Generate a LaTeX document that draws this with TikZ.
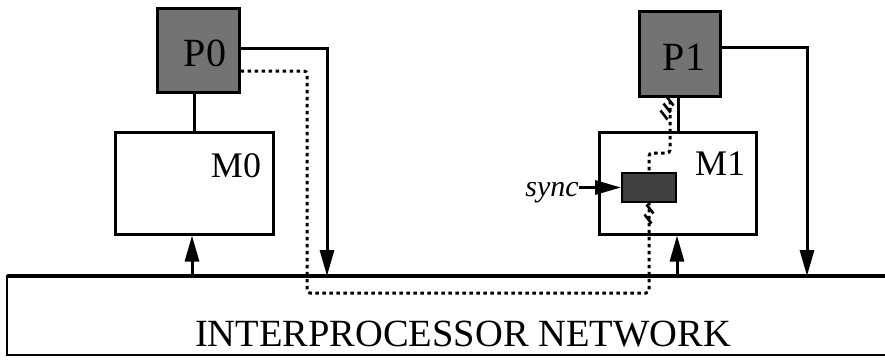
\documentclass[tikz,border=0pt]{standalone}
\usepackage{fontspec}
\setmainfont{Liberation Serif}
\usetikzlibrary{arrows.meta}
\begin{document}
\begin{tikzpicture}[x=1pt,y=-1pt,
  wire/.style={line width=3pt},
  tip/.style={-{Triangle[width=14pt,length=26pt]}},
  proc/.style={draw,line width=3pt,fill=black!55,inner sep=0pt},
  mem/.style={draw,line width=3pt,fill=white,minimum width=158pt,minimum height=102pt,inner sep=0pt},
  flow/.style={line width=3pt,dash pattern=on 3.5pt off 3.5pt,rounded corners=3pt},
  hatch/.style={line width=2.6pt},
  plabel/.style={anchor=base,inner sep=0pt,font=\fontsize{40}{40}\selectfont},
  mlabel/.style={anchor=base,inner sep=0pt,font=\fontsize{36}{36}\selectfont}]
\useasboundingbox (0,0) rectangle (885,359);
% network
\coordinate (NW) at (7,276);
\coordinate (SW) at (7,355);
\draw[line width=2.2pt] (890,276) -- (NW) -- (SW) -- (890,355);
\draw[line width=3.4pt] (890,276) -- (NW);
\node[anchor=base,inner sep=0pt,font=\fontsize{38.5}{38.5}\selectfont] (net) at (463,346) {INTERPROCESSOR NETWORK};
% processors and memories
\node[proc,minimum width=82pt,minimum height=84pt] (P0) at (198,50) {};
\node[proc,minimum width=81pt,minimum height=85pt] (P1) at (679.5,53.5) {};
\node[plabel] (P0l) at (205,66) {P0};
\node[plabel] (P1l) at (684,70) {P1};
\node[mem] (M0) at (194,183) {};
\node[mem,minimum width=157pt] (M1) at (677.5,183) {};
\node[mlabel] (M0l) at (236,177) {M0};
\node[mlabel] (M1l) at (720,175) {M1};
% dotted flow
\coordinate (d1) at (307,71);
\coordinate (d2) at (307,293);
\coordinate (d3) at (649,293);
\coordinate (d4) at (649,153);
\coordinate (d5) at (670,153);
\draw[flow] (P0.east |- d1) -- (d1) -- (d2) -- (d3) -- (d4) -- (d5) -- (P1.south -| d5);
% solid connectors
\coordinate (c0) at (194,0);
\coordinate (c1) at (678,0);
\draw[wire] (P0.south -| c0) -- (M0.north -| c0);
\draw[wire] (P1.south -| c1) -- (M1.north -| c1);
\coordinate (r0) at (327,48);
\coordinate (r1) at (807,47);
\draw[wire,tip] (P0.east |- r0) -- (r0) -- (r0 |- NW);
\draw[wire,tip] (P1.east |- r1) -- (r1) -- (r1 |- NW);
\coordinate (a0) at (192,276);
\coordinate (a1) at (677,276);
\draw[wire,tip] (a0) -- (M0.south -| a0);
\draw[wire,tip] (a1) -- (M1.south -| a1);
% sync
\node[draw,line width=1.8pt,fill=black!75,minimum width=54pt,minimum height=29pt,inner sep=0pt] (S) at (649,187.5) {};
\node[anchor=base,inner sep=0pt,font=\fontsize{30}{30}\selectfont\itshape] (syncl) at (552,196) {sync};
\draw[wire,tip] (S.west -| syncl.east) -- (S.west);
% break marks
\foreach \cx/\cy in {670/101,667/108,664/115,650/209,648/219}
  \draw[hatch] (\cx-3.5,\cy-4.5) -- (\cx+3.5,\cy+4.5);
\end{tikzpicture}
\end{document}
